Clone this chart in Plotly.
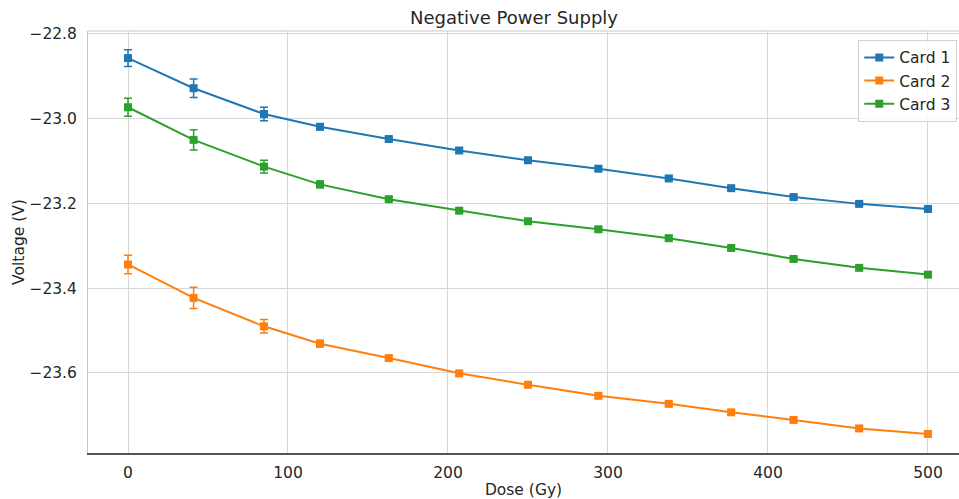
import plotly.graph_objects as go

dose = [0, 41, 85, 120, 163, 207, 250, 294, 338, 377, 416, 457, 500]
card1 = [-22.857, -22.928, -22.989, -23.019, -23.048, -23.075, -23.098, -23.118,
         -23.141, -23.164, -23.185, -23.201, -23.213]
card2 = [-23.344, -23.423, -23.490, -23.531, -23.565, -23.601, -23.628, -23.654,
         -23.673, -23.693, -23.711, -23.731, -23.744]
card3 = [-22.973, -23.050, -23.113, -23.155, -23.190, -23.217, -23.242, -23.261,
         -23.282, -23.305, -23.331, -23.352, -23.368]
err1 = [0.020, 0.022, 0.016, 0.007, 0.005, 0.005, 0.005, 0.005, 0.005, 0.005, 0.005, 0.005, 0.005]
err2 = [0.022, 0.025, 0.016, 0.008, 0.005, 0.005, 0.005, 0.005, 0.005, 0.005, 0.005, 0.005, 0.005]
err3 = [0.021, 0.024, 0.015, 0.008, 0.005, 0.005, 0.005, 0.005, 0.005, 0.005, 0.005, 0.005, 0.005]

names = ["Card 1", "Card 2", "Card 3"]
colors = ["#1f77b4", "#ff7f0e", "#2ca02c"]
series = [card1, card2, card3]
errs = [err1, err2, err3]

xticks = [0, 100, 200, 300, 400, 500]
yticks = [-22.8, -23.0, -23.2, -23.4, -23.6]
yticktext = ["\u221222.8", "\u221223.0", "\u221223.2", "\u221223.4", "\u221223.6"]

fig = go.Figure()
for name, col, ys, er in zip(names, colors, series, errs):
    fig.add_trace(go.Scatter(
        x=dose, y=ys, name=name, mode="lines+markers",
        line=dict(color=col, width=2),
        marker=dict(symbol="square", size=8, color=col),
        error_y=dict(type="data", array=er, visible=True, color=col, thickness=1.5, width=4),
    ))

font = "DejaVu Sans, sans-serif"
fig.update_layout(
    width=959, height=499,
    margin=dict(l=88, r=0, t=31, b=46, autoexpand=False),
    paper_bgcolor="white", plot_bgcolor="white",
    font=dict(family=font, size=15.5, color="#262626"),
    title=dict(text="Negative Power Supply", x=514/959, xanchor="center",
               y=1 - 18/499, yanchor="middle", font=dict(size=18, color="#262626")),
    showlegend=True,
    legend=dict(x=0.998, y=0.979, xanchor="right", yanchor="top",
                bgcolor="rgba(255,255,255,0.8)", bordercolor="#d0d0d0", borderwidth=1,
                font=dict(size=15.5), tracegroupgap=0),
    xaxis=dict(range=[-25, 519.4], tickvals=xticks, ticktext=[str(v) for v in xticks],
               showgrid=True, gridcolor="#d8d8d8", gridwidth=1, zeroline=False,
               showline=True, linecolor="#555555", linewidth=1.5,
               ticks="outside", ticklen=0, ticklabelstandoff=5,
               title=dict(text="Dose (Gy)", standoff=3, font=dict(size=15.5))),
    yaxis=dict(range=[-23.789, -22.793], tickvals=yticks, ticktext=yticktext,
               showgrid=True, gridcolor="#d8d8d8", gridwidth=1, zeroline=False,
               showline=True, linecolor="#c8c8c8", linewidth=1,
               ticks="outside", ticklen=0, ticklabelstandoff=7,
               title=dict(text="Voltage (V)", standoff=0, font=dict(size=15.5))),
)
fig.add_shape(type="line", xref="paper", yref="paper", x0=0, x1=1, y0=1, y1=1,
              line=dict(color="#c8c8c8", width=1))

fig.write_html("out.html", config={"displayModeBar": False},
               post_script="document.body.style.margin='0';document.body.style.overflow='hidden';")
